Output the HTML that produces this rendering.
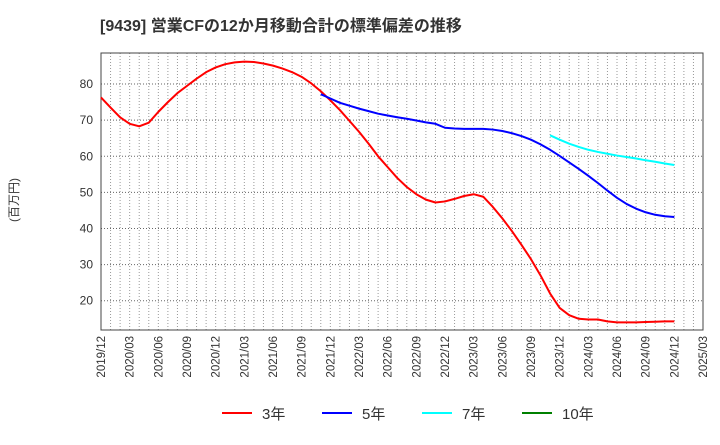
<!DOCTYPE html>
<html><head><meta charset="utf-8"><style>
body{margin:0;background:#fff;width:720px;height:440px;overflow:hidden}
svg text{font-family:"Liberation Sans","Noto Sans CJK JP",sans-serif;fill:#333}
</style></head><body>
<svg id="c" width="720" height="440">
<text x="100" y="31" font-size="16" font-weight="bold">[9439]  営業CFの12か月移動合計の標準偏差の推移</text>
<text transform="translate(18,200) rotate(-90)" text-anchor="middle" font-size="12">(百万円)</text>
<g id="grid"></g><g id="axes"></g><g id="series"></g><g id="legend"></g>
</svg>
<script>
const months=["2019/12","2020/01","2020/02","2020/03","2020/04","2020/05","2020/06","2020/07","2020/08","2020/09","2020/10","2020/11","2020/12","2021/01","2021/02","2021/03","2021/04","2021/05","2021/06","2021/07","2021/08","2021/09","2021/10","2021/11","2021/12","2022/01","2022/02","2022/03","2022/04","2022/05","2022/06","2022/07","2022/08","2022/09","2022/10","2022/11","2022/12","2023/01","2023/02","2023/03","2023/04","2023/05","2023/06","2023/07","2023/08","2023/09","2023/10","2023/11","2023/12","2024/01","2024/02","2024/03","2024/04","2024/05","2024/06","2024/07","2024/08","2024/09","2024/10","2024/11","2024/12","2025/01","2025/02","2025/03"];
const yTicks=[20,30,40,50,60,70,80];
const s3=[76.3,73.5,70.8,69,68.3,69.3,72.3,75,77.5,79.5,81.5,83.3,84.6,85.5,86,86.2,86.1,85.7,85.1,84.3,83.3,82,80.2,78,75.5,72.8,69.8,66.8,63.5,60,57,54,51.5,49.5,48,47.2,47.5,48.2,49,49.5,48.8,46,42.8,39.3,35.5,31.5,27,22,18,16,15,14.8,14.8,14.3,14,14,14,14.1,14.2,14.3,14.3];
const s3Start=0;
const s5=[77.2,76,74.8,74,73.2,72.5,71.8,71.3,70.8,70.4,69.9,69.4,69,67.9,67.7,67.6,67.6,67.6,67.4,67,66.4,65.6,64.6,63.3,61.8,60.1,58.3,56.5,54.6,52.6,50.5,48.5,46.8,45.5,44.5,43.8,43.4,43.2];
const s5Start=23;
const s7=[65.8,64.6,63.5,62.6,61.8,61.2,60.7,60.2,59.8,59.4,58.9,58.5,58.0,57.6];
const s7Start=47;
const s10=[];
const legendLabels=["3年","5年","7年","10年"];
const colors=["#ff0000","#0000ff","#00ffff","#008000"];

const L=101,R=703,T=53,B=330,ymin=11.9,ymax=88.6;
const xs=i=>L+(i)*(R-L)/(months.length-1);
const ys=v=>B-(v-ymin)/(ymax-ymin)*(B-T);
const NS="http://www.w3.org/2000/svg";
function mk(p,t,a){const e=document.createElementNS(NS,t);for(const k in a)e.setAttribute(k,a[k]);document.getElementById(p).appendChild(e);return e;}
for(let i=1;i<months.length-1;i++){
  const g=mk('grid','line',{x1:xs(i),x2:xs(i),y1:T,y2:B,stroke:'#999','stroke-dasharray':'1,2','stroke-width':1});
  
  
}
yTicks.forEach(v=>{
  const g=mk('grid','line',{x1:L,x2:R,y1:ys(v),y2:ys(v),stroke:'#666','stroke-dasharray':'1,2','stroke-width':1});
  
  
  const t=mk('axes','text',{x:L-8,y:ys(v)+4,'text-anchor':'end','font-size':12});
  t.textContent=v;
  
  
});
months.forEach((m,i)=>{if(i%3)return;
  const t=mk('axes','text',{transform:`translate(${xs(i)+4},${B+6}) rotate(-90)`,'text-anchor':'end','font-size':11.5});
  t.textContent=m;
  
  
});
const fr=mk('axes','rect',{x:L,y:T,width:R-L,height:B-T,fill:'none',stroke:'#444','stroke-width':1});


[[s3,s3Start],[s5,s5Start],[s7,s7Start],[s10,0]].forEach(([d,st],k)=>{
  if(!d.length)return;
  const p=mk('series','polyline',{points:d.map((v,i)=>xs(st+i)+','+ys(v)).join(' '),fill:'none',stroke:colors[k],'stroke-width':2,'stroke-linejoin':'round'});
  
  
});
legendLabels.forEach((l,k)=>{
  const x0=222+k*100;
  const ln=mk('legend','line',{x1:x0,x2:x0+30,y1:413,y2:413,stroke:colors[k],'stroke-width':2});
  
  
  const t=mk('legend','text',{x:x0+40,y:419,'font-size':15});
  t.textContent=l;
  
  
});
</script>
</body></html>
